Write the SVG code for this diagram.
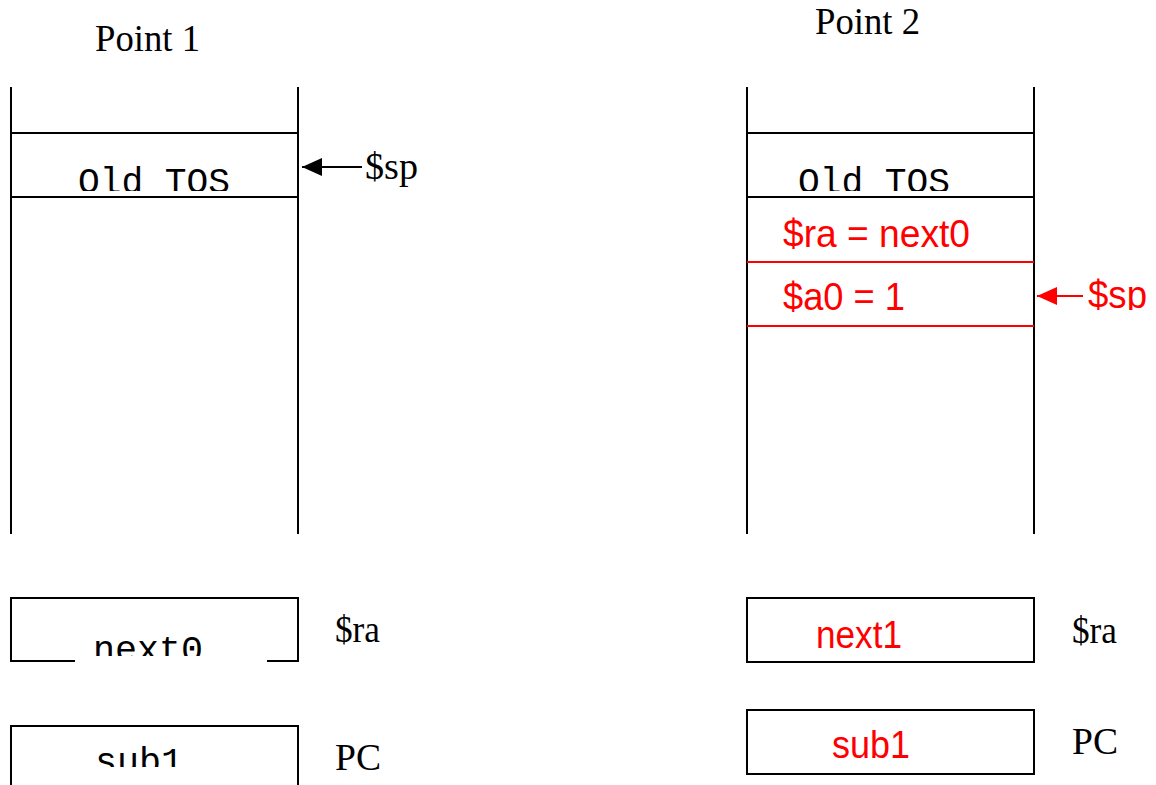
<svg xmlns="http://www.w3.org/2000/svg" width="1156" height="785" viewBox="0 0 1156 785">
<style>
.ln{stroke:#000;stroke-width:2;fill:none}
.rl{stroke:#f00;stroke-width:2;fill:none}
.box{stroke:#000;stroke-width:2;fill:#fff}
.serif{font-family:"Liberation Serif","Times New Roman",serif;font-size:38px;fill:#000}
.mono{font-family:"Liberation Mono","Courier New",monospace;font-size:36px;fill:#000}
.red{font-family:"Liberation Sans",Arial,sans-serif;font-size:38px;fill:#f00}
</style>
<defs>
<marker id="ab" markerWidth="22" markerHeight="18" refX="20" refY="9" orient="auto" markerUnits="userSpaceOnUse">
<path d="M20,9 L0,0 L0,18 Z" fill="#000"/>
</marker>
<marker id="ar" markerWidth="22" markerHeight="18" refX="20" refY="9" orient="auto" markerUnits="userSpaceOnUse">
<path d="M20,9 L0,0 L0,18 Z" fill="#f00"/>
</marker>
<clipPath id="c1"><rect x="0" y="100" width="400" height="91"/></clipPath>
<clipPath id="c2"><rect x="700" y="100" width="400" height="91"/></clipPath>
<clipPath id="c3"><rect x="0" y="600" width="400" height="56"/></clipPath>
<clipPath id="c4"><rect x="0" y="730" width="400" height="37"/></clipPath>
<clipPath id="c5"><rect x="1040" y="260" width="116" height="50"/></clipPath>
</defs>
<rect width="1156" height="785" fill="#fff"/>

<g id="title1"><text class="serif" x="95" y="51" font-size="40" textLength="105" lengthAdjust="spacingAndGlyphs">Point 1</text></g>
<g id="title2"><text class="serif" x="815" y="34" font-size="40" textLength="105" lengthAdjust="spacingAndGlyphs">Point 2</text></g>

<g id="stack1">
<line class="ln" x1="11" y1="87" x2="11" y2="534"/>
<line class="ln" x1="298" y1="87" x2="298" y2="534"/>
<line class="ln" x1="11" y1="133" x2="298" y2="133"/>
<line class="ln" x1="11" y1="197" x2="298" y2="197"/>
<text class="mono" x="78" y="193" clip-path="url(#c1)" textLength="152" lengthAdjust="spacingAndGlyphs">Old TOS</text>
</g>

<g id="stack2">
<line class="ln" x1="747" y1="87" x2="747" y2="534"/>
<line class="ln" x1="1034" y1="87" x2="1034" y2="534"/>
<line class="ln" x1="747" y1="133" x2="1034" y2="133"/>
<line class="ln" x1="747" y1="197" x2="1034" y2="197"/>
<line class="rl" x1="747" y1="262" x2="1034" y2="262"/>
<line class="rl" x1="747" y1="326" x2="1034" y2="326"/>
<text class="mono" x="798" y="193" clip-path="url(#c2)" textLength="152" lengthAdjust="spacingAndGlyphs">Old TOS</text>
<text class="red" x="783" y="247" textLength="187" lengthAdjust="spacingAndGlyphs">$ra = next0</text>
<text class="red" x="783" y="310" textLength="122" lengthAdjust="spacingAndGlyphs">$a0 = 1</text>
</g>

<g id="connectors">
<line class="ln" x1="362" y1="167" x2="302" y2="167" marker-end="url(#ab)"/>
<line class="rl" x1="1083" y1="296" x2="1037" y2="296" marker-end="url(#ar)"/>
</g>

<g id="sp1"><text class="serif" x="365" y="179" textLength="53" lengthAdjust="spacingAndGlyphs">$sp</text></g>
<g id="sp2"><text class="red" x="1088" y="308" clip-path="url(#c5)" textLength="59" lengthAdjust="spacingAndGlyphs">$sp</text></g>

<g id="ra1">
<rect class="box" x="11" y="598" width="287" height="63"/>
<rect x="75" y="650" width="192" height="14" fill="#fff"/>
<text class="mono" x="93" y="661" clip-path="url(#c3)" textLength="110" lengthAdjust="spacingAndGlyphs">next0</text>
<text class="serif" x="335" y="642" textLength="45" lengthAdjust="spacingAndGlyphs">$ra</text>
</g>

<g id="pc1">
<rect class="box" x="11" y="726" width="287" height="80"/>
<text class="mono" x="95" y="773" clip-path="url(#c4)" textLength="88" lengthAdjust="spacingAndGlyphs">sub1</text>
<text class="serif" x="335" y="770" textLength="46" lengthAdjust="spacingAndGlyphs">PC</text>
</g>

<g id="ra2">
<rect class="box" x="747" y="598" width="287" height="64"/>
<text class="red" x="816" y="648" textLength="86" lengthAdjust="spacingAndGlyphs">next1</text>
<text class="serif" x="1072" y="643" textLength="45" lengthAdjust="spacingAndGlyphs">$ra</text>
</g>

<g id="pc2">
<rect class="box" x="747" y="710" width="287" height="64"/>
<text class="red" x="832" y="758" textLength="78" lengthAdjust="spacingAndGlyphs">sub1</text>
<text class="serif" x="1072" y="754" textLength="46" lengthAdjust="spacingAndGlyphs">PC</text>
</g>
</svg>
